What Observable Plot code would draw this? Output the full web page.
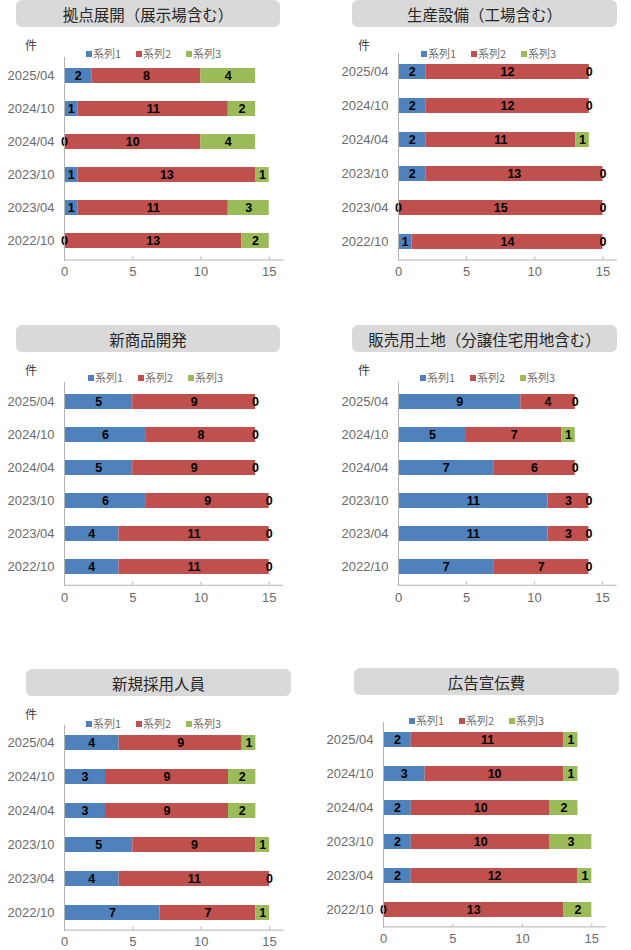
<!DOCTYPE html>
<html><head><meta charset="utf-8">
<script src="https://cdn.jsdelivr.net/npm/d3@7"></script>
<script src="https://cdn.jsdelivr.net/npm/@observablehq/plot@0.6"></script>
<style>
body{margin:0;background:#fff;width:631px;height:950px;position:relative;overflow:hidden;font-family:"Noto Sans CJK JP",sans-serif;}
.title{position:absolute;background:#d9d9d9;border-radius:6px;display:flex;align-items:center;justify-content:center;font-size:15.5px;color:#262626;}
.unit{position:absolute;font-size:12px;color:#404040;line-height:16px;}
.leg{position:absolute;font-size:11px;color:#6b6b6b;line-height:14px;height:14px;white-space:nowrap;}
.leg .sw{display:inline-block;width:6px;height:6px;margin-right:1px;vertical-align:1px;}
svg.panel{position:absolute;}
</style>
</head><body>
<script>
const dates = ["2025/04","2024/10","2024/04","2023/10","2023/04","2022/10"];
const seriesNames = ["系列1","系列2","系列3"];
const colors = ["#4f81bd","#c0504d","#9bbb59"];
const xTicks = [0,5,10,15];
const titles = ["拠点展開（展示場含む）","生産設備（工場含む）","新商品開発","販売用土地（分譲住宅用地含む）","新規採用人員","広告宣伝費"];
// rows follow dates order; columns follow seriesNames
const kyoten   = [[2,8,4],[1,11,2],[0,10,4],[1,13,1],[1,11,3],[0,13,2]];
const seisan   = [[2,12,0],[2,12,0],[2,11,1],[2,13,0],[0,15,0],[1,14,0]];
const shinshohin = [[5,9,0],[6,8,0],[5,9,0],[6,9,0],[4,11,0],[4,11,0]];
const tochi    = [[9,4,0],[5,7,1],[7,6,0],[11,3,0],[11,3,0],[7,7,0]];
const saiyo    = [[4,9,1],[3,9,2],[3,9,2],[5,9,1],[4,11,0],[7,7,1]];
const kokoku   = [[2,11,1],[3,10,1],[2,10,2],[2,10,3],[2,12,1],[0,13,2]];
const unitLabel = "件";

const panels = [
  {title:titles[0], values:kyoten, box:[16,0,280,27], unit:[31,45], legX:86, legY:53, axisX:64.3, ppu:13.65, top:56.5, bottom:259},
  {title:titles[1], values:seisan, box:[352,0,617,27], unit:[364,45], legX:421, legY:53, axisX:398.3, ppu:13.63, top:53, bottom:259.5},
  {title:titles[2], values:shinshohin, box:[16,325,280,352], unit:[31,370], legX:88, legY:377, axisX:64.3, ppu:13.65, top:381.5, bottom:584.3},
  {title:titles[3], values:tochi, box:[352,325,617,352], unit:[364,370], legX:420, legY:377, axisX:398.3, ppu:13.6, top:381.5, bottom:584.3},
  {title:titles[4], values:saiyo, box:[26,669,291,696], unit:[31,714], legX:86, legY:723, axisX:64.3, ppu:13.67, top:724.7, bottom:929.3},
  {title:titles[5], values:kokoku, box:[354,668,619,695], unit:null, legX:409, legY:720, axisX:383.3, ppu:13.89, top:721.6, bottom:926}
];

function el(tag, cls, style, text){
  const e = document.createElement(tag);
  if (cls) e.className = cls;
  Object.assign(e.style, style || {});
  if (text != null) e.textContent = text;
  document.body.appendChild(e);
  return e;
}

panels.forEach(p => {
  // title box
  const [x0,y0,x1,y1] = p.box;
  el("div","title",{left:x0+"px",top:y0+"px",width:(x1-x0)+"px",height:(y1-y0)+"px"}, p.title);
  // unit label
  if (p.unit) el("div","unit",{left:(p.unit[0]-6)+"px",top:(p.unit[1]-8)+"px"}, unitLabel);
  // legend
  seriesNames.forEach((s,i) => {
    const d = el("div","leg",{left:(p.legX + i*50)+"px",top:(p.legY-7)+"px"});
    const sw = document.createElement("span"); sw.className="sw"; sw.style.background = colors[i];
    d.appendChild(sw);
    d.appendChild(document.createTextNode(s));
  });
  // chart
  const rows = [];
  dates.forEach((dt,i) => p.values[i].forEach((v,j) => rows.push({date:dt, series:seriesNames[j], value:v})));
  const ml = 64, mr = 6, mb = 26;
  const h = p.bottom - p.top;
  const w = ml + 16*p.ppu + mr;
  const chart = Plot.plot({
    width: w, height: h + mb,
    marginLeft: ml, marginRight: mr, marginTop: 0, marginBottom: mb,
    x: {domain:[0,16]},
    y: {domain: dates, paddingInner: 0.56, paddingOuter: 0.28},
    color: {domain: seriesNames, range: colors},
    style: {fontFamily: "'Liberation Sans', sans-serif", background: "transparent", overflow: "visible"},
    marks: [
      Plot.barX(rows, Plot.stackX({x:"value", y:"date", fill:"series", order: seriesNames})),
      Plot.text(rows, Plot.stackX({x:"value", y:"date", z:"series", order: seriesNames, text: d => String(d.value), fontWeight:"bold", fontSize:12.5, fill:"#000"})),
      Plot.frame({anchor:"left", stroke:"#b3b3b3"}),
      Plot.frame({anchor:"bottom", stroke:"#b3b3b3"}),
      Plot.ruleX(xTicks.slice(1), {insetTop: h - 3, stroke:"#b3b3b3"}),
      Plot.axisX({ticks: xTicks, tickSize: 0, tickPadding: 7, fontSize: 13, color: "#6b6b6b", label: null}),
      Plot.axisY({tickSize: 0, tickPadding: 10, fontSize: 13, color: "#6b6b6b", label: null})
    ]
  });
  chart.classList.add("panel");
  chart.style.left = (p.axisX - ml) + "px";
  chart.style.top = p.top + "px";
  document.body.appendChild(chart);
});
</script>
</body></html>
